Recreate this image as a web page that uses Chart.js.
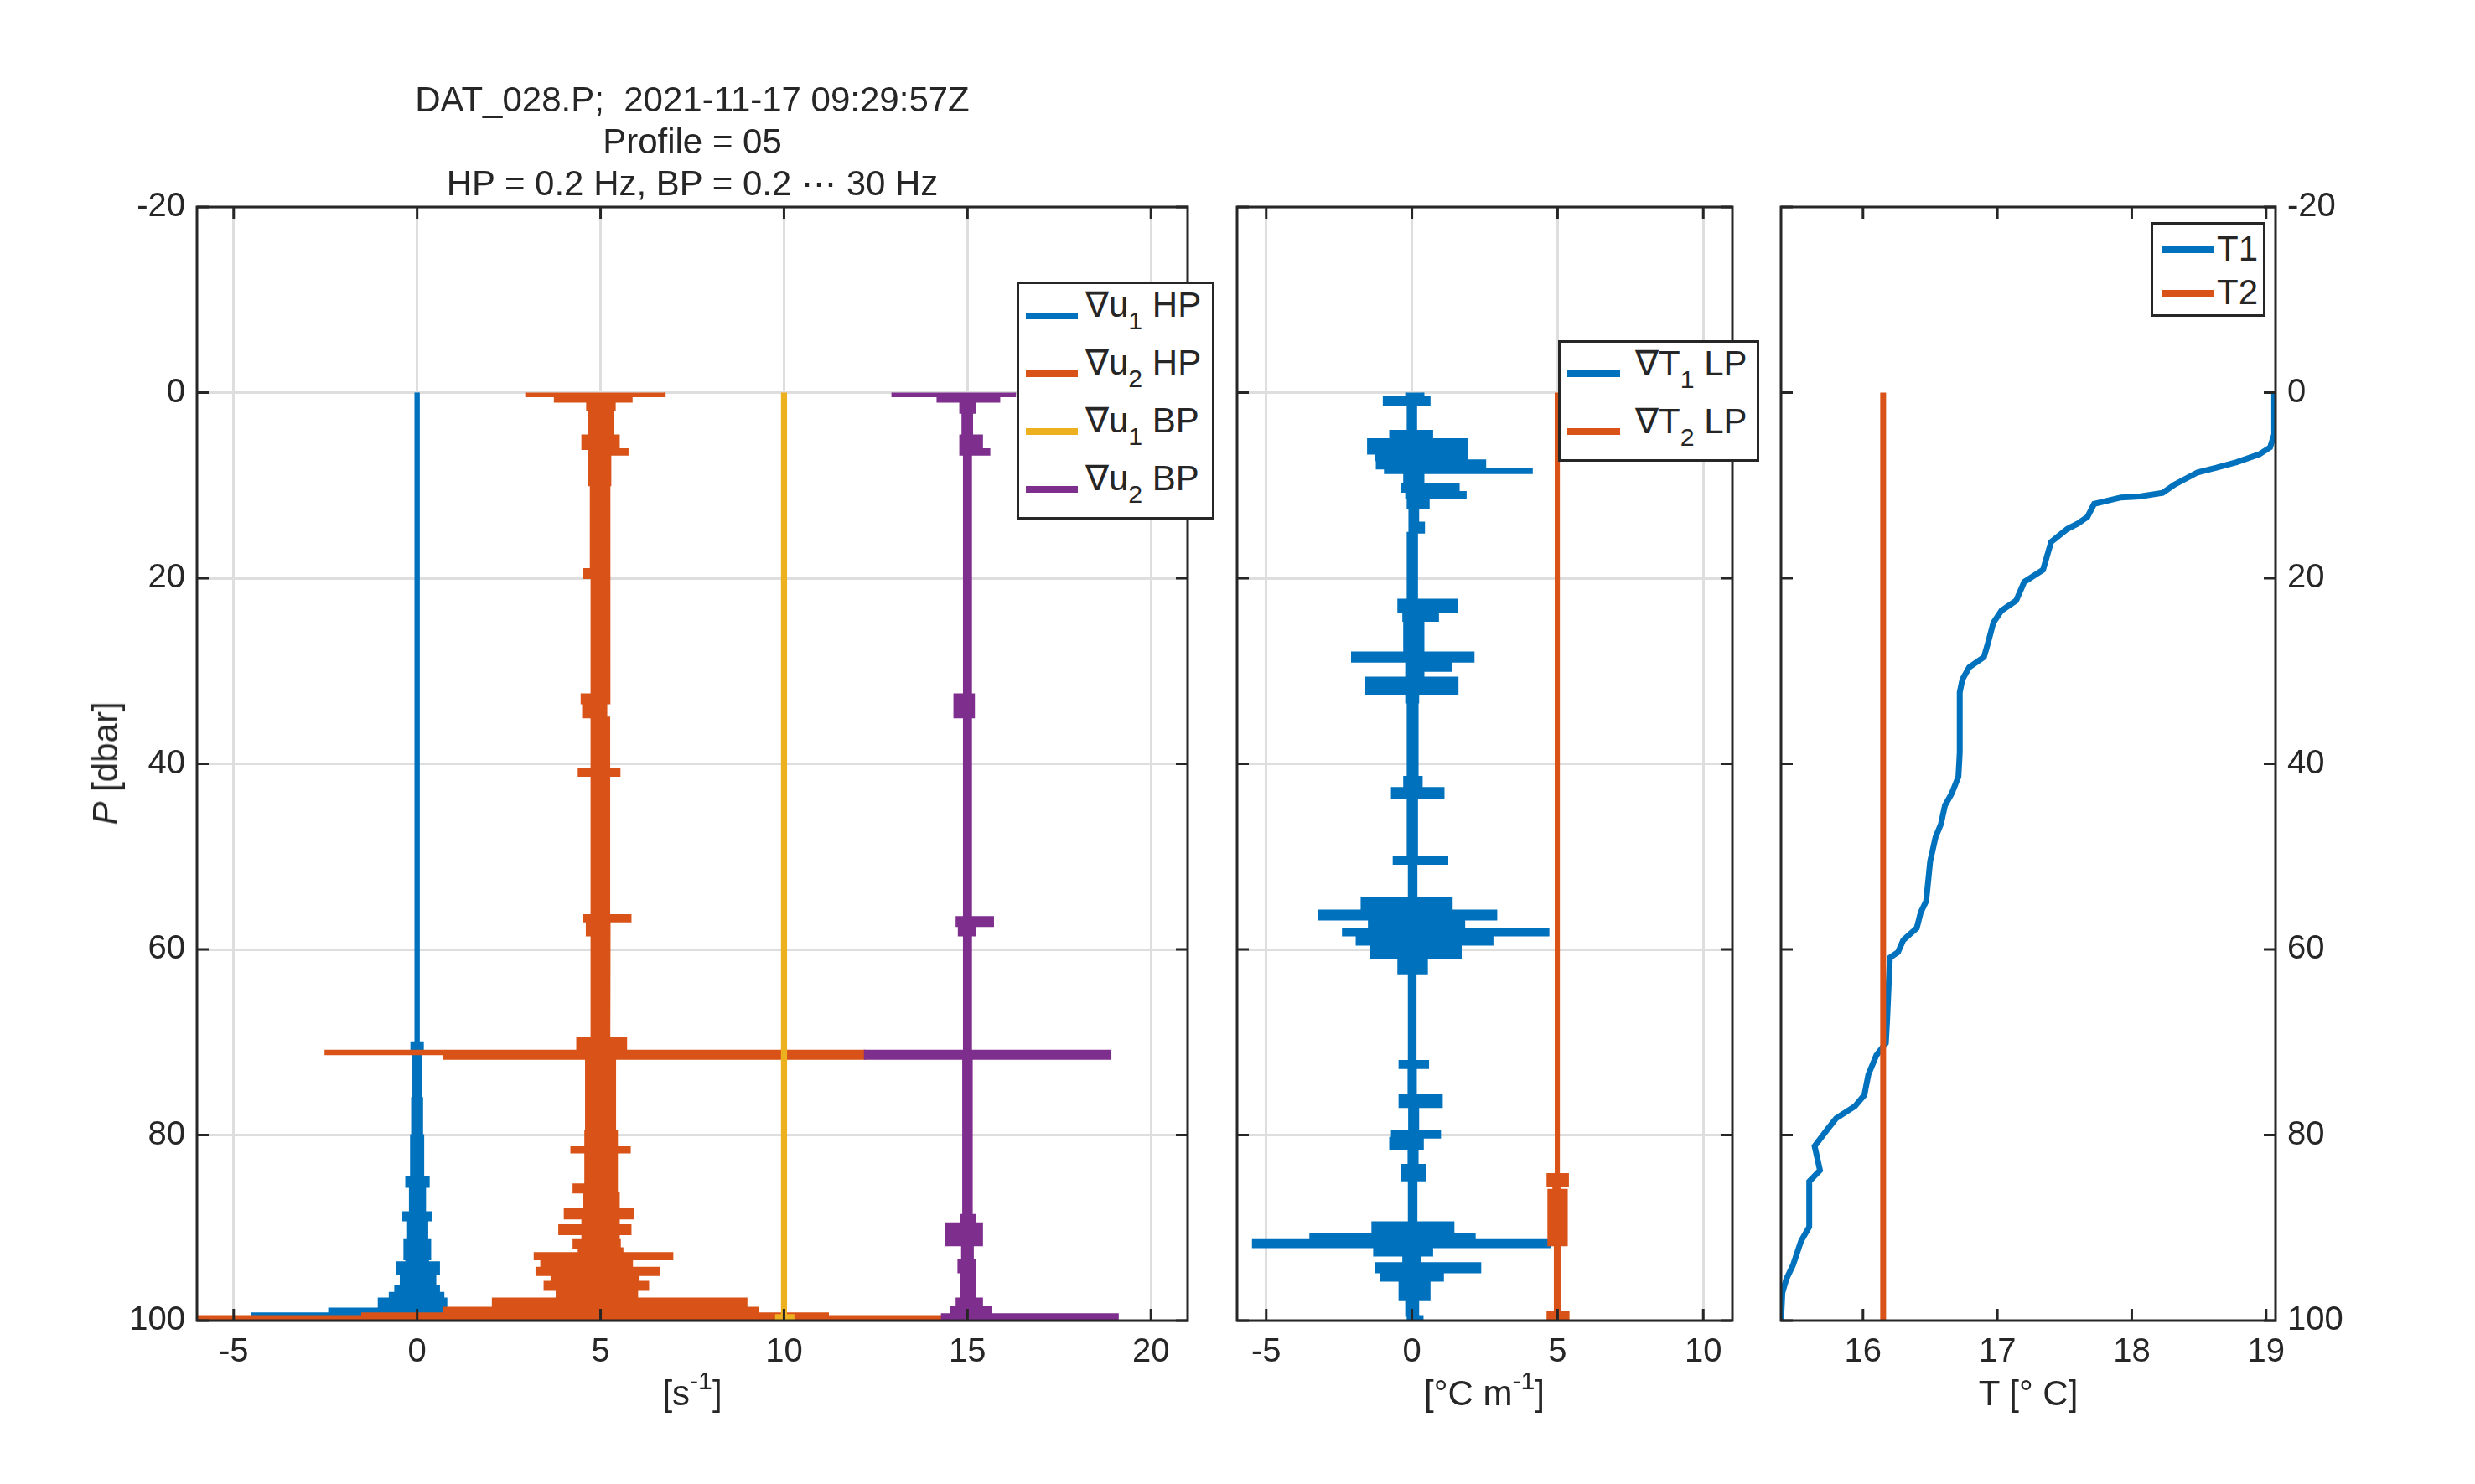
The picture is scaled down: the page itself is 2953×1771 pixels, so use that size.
<!DOCTYPE html>
<html>
<head>
<meta charset="utf-8">
<style>
  html, body { margin: 0; padding: 0; background: #fff; }
  body { width: 2953px; height: 1771px; position: relative; overflow: hidden;
         font-family: "Liberation Sans", Arial, sans-serif; color: #262626; }
  canvas { position: absolute; left: 0; top: 0; }
  .lbl { position: absolute; font-size: 42px; line-height: 1; white-space: nowrap; }
  .center { width: 800px; text-align: center; }
  .leg { position: absolute; background: #fff; border: 3px solid #262626; box-sizing: border-box; }
  .leg .sample { position: absolute; height: 8px; margin-top: -4px; }
  .leg .txt { position: absolute; font-size: 42px; line-height: 1; white-space: nowrap; }
  sub { font-size: 0.72em; vertical-align: -0.5em; line-height: 0; }
  sup { font-size: 0.72em; vertical-align: 0.62em; line-height: 0; }
</style>
</head>
<body>

<canvas id="shear" width="2953" height="1771"></canvas>
<canvas id="gradT" width="2953" height="1771"></canvas>
<canvas id="temp" width="2953" height="1771"></canvas>

<div class="lbl center" style="left:426px; top:94px; line-height:50px;">DAT_028.P;&nbsp; 2021-11-17 09:29:57Z<br>Profile = 05<br>HP = 0.2 Hz, BP = 0.2 &#8943; 30 Hz</div>

<div class="lbl" style="left:126px; top:911px; transform: translate(-50%, -50%) rotate(-90deg);"><i>P</i> [dbar]</div>
<div class="lbl center" style="left:426px; top:1642px;">[s<sup>-1</sup>]</div>
<div class="lbl center" style="left:1371px; top:1642px;">[&deg;C m<sup>-1</sup>]</div>
<div class="lbl center" style="left:2020px; top:1642px;">T [&deg; C]</div>

<div class="leg" style="left:1213px; top:336px; width:236px; height:284px;">
  <div class="sample" style="left:8px; top:38px; width:62px; background:#0072BD;"></div>
  <div class="txt" style="left:79px; top:4px;">&nabla;u<sub>1</sub> HP</div>
  <div class="sample" style="left:8px; top:107px; width:62px; background:#D95319;"></div>
  <div class="txt" style="left:79px; top:73px;">&nabla;u<sub>2</sub> HP</div>
  <div class="sample" style="left:8px; top:176px; width:62px; background:#EDB120;"></div>
  <div class="txt" style="left:79px; top:142px;">&nabla;u<sub>1</sub> BP</div>
  <div class="sample" style="left:8px; top:245px; width:62px; background:#7E2F8E;"></div>
  <div class="txt" style="left:79px; top:211px;">&nabla;u<sub>2</sub> BP</div>
</div>

<div class="leg" style="left:1859px; top:406px; width:240px; height:145px;">
  <div class="sample" style="left:8px; top:37px; width:63px; background:#0072BD;"></div>
  <div class="txt" style="left:89px; top:4px;">&nabla;T<sub>1</sub> LP</div>
  <div class="sample" style="left:8px; top:106px; width:63px; background:#D95319;"></div>
  <div class="txt" style="left:89px; top:73px;">&nabla;T<sub>2</sub> LP</div>
</div>

<div class="leg" style="left:2566px; top:265px; width:137px; height:113px;">
  <div class="sample" style="left:10px; top:30px; width:63px; background:#0072BD;"></div>
  <div class="txt" style="left:76px; top:8px;">T1</div>
  <div class="sample" style="left:10px; top:82px; width:63px; background:#D95319;"></div>
  <div class="txt" style="left:76px; top:60px;">T2</div>
</div>

<script src="https://cdn.jsdelivr.net/npm/chart.js"></script>
<script>
// ---- tick values ----
const pressureTicks = [-20, 0, 20, 40, 60, 80, 100];
const shearTicks = [-5, 0, 5, 10, 15, 20];
const gradTTicks = [-5, 0, 5, 10];
const tempTicks = [16, 17, 18, 19];

// ---- noisy profiles, read off the picture as envelopes ----
// each row: [P top, P bottom, min value, max value] (values include the plot offsets)
const gradU1HP = [
  [0, 70, -0.05, 0.05], [70, 70.8, -0.16, 0.16], [70.8, 76, -0.12, 0.12],
  [76, 80, -0.14, 0.14], [80, 84.5, -0.17, 0.17], [84.5, 85.6, -0.3, 0.32],
  [85.6, 88.3, -0.2, 0.22], [88.3, 89.2, -0.38, 0.38], [89.2, 91.3, -0.25, 0.28],
  [91.3, 93.4, -0.35, 0.36], [93.4, 93.7, -0.3, 0.3], [93.7, 95, -0.55, 0.6],
  [95, 96.2, -0.45, 0.5], [96.2, 97, -0.6, 0.6], [97, 97.6, -0.75, 0.72],
  [97.6, 98.7, -1.05, 0.8], [98.7, 99.2, -2.4, 0.7], [99.2, 99.6, -4.5, 0.6],
  [99.6, 100, -6.2, 0.5]
];
const gradU2HP = [
  [0, 0.4, 2.97, 6.75], [0.4, 1, 3.75, 5.85], [1, 1.9, 4.63, 5.39],
  [1.9, 4.6, 4.68, 5.33], [4.6, 6.1, 4.5, 5.5], [6.1, 6.7, 4.68, 5.74],
  [6.7, 10, 4.68, 5.27], [10, 19, 4.73, 5.24], [19, 20, 4.54, 5.25],
  [20, 32.5, 4.75, 5.24], [32.5, 33.5, 4.48, 5.25], [33.5, 35, 4.52, 5.16],
  [35, 40.5, 4.75, 5.24], [40.5, 41.3, 4.4, 5.52], [41.3, 56.3, 4.75, 5.24],
  [56.3, 57, 4.54, 5.82], [57, 58.5, 4.62, 5.25], [58.5, 69.5, 4.75, 5.24],
  [69.5, 70.9, 4.36, 5.7], [70.9, 71.3, -2.5, 12.2], [71.3, 71.8, 0.73, 12.2],
  [71.8, 79.6, 4.6, 5.4], [79.6, 81.3, 4.58, 5.45], [81.3, 81.9, 4.2, 5.8],
  [81.9, 85.3, 4.58, 5.45], [85.3, 86.2, 4.26, 5.45], [86.2, 88, 4.55, 5.5],
  [88, 89, 4.02, 5.9], [89, 89.7, 4.5, 5.5], [89.7, 90.7, 3.87, 5.82],
  [90.7, 91.3, 4.5, 5.5], [91.3, 92.2, 4.26, 5.53], [92.2, 92.7, 4.4, 5.6],
  [92.7, 93.4, 3.2, 6.96], [93.4, 94.3, 3.38, 5.86], [94.3, 95.1, 3.25, 6.6],
  [95.1, 95.8, 3.66, 6.04], [95.8, 96.7, 3.47, 6.3], [96.7, 97.6, 3.8, 6.0],
  [97.6, 98.6, 2.06, 8.98], [98.6, 99.2, 0.73, 9.3], [99.2, 99.5, -1.5, 11.2],
  [99.5, 100, -6.2, 14.3]
];
const gradU1BP = [
  [0, 99.4, 9.94, 10.06], [99.4, 100, 9.78, 10.26]
];
const gradU2BP = [
  [0, 0.4, 12.95, 16.3], [0.4, 1, 14.18, 15.87], [1, 2.2, 14.8, 15.2],
  [2.2, 4.6, 14.86, 15.13], [4.6, 6.1, 14.8, 15.4], [6.1, 6.7, 14.8, 15.6],
  [6.7, 32.5, 14.9, 15.1], [32.5, 35, 14.64, 15.18], [35, 56.5, 14.9, 15.1],
  [56.5, 57.5, 14.7, 15.7], [57.5, 58.5, 14.76, 15.2], [58.5, 70.9, 14.9, 15.1],
  [70.9, 71.8, 12.2, 18.9], [71.8, 88.6, 14.88, 15.12], [88.6, 89.5, 14.82, 15.2],
  [89.5, 91.9, 14.4, 15.4], [91.9, 93.5, 14.85, 15.15], [93.5, 94.8, 14.75, 15.2],
  [94.8, 97.6, 14.82, 15.2], [97.6, 98.5, 14.7, 15.4], [98.5, 99.3, 14.55, 15.65],
  [99.3, 100, 14.3, 19.1]
];
const gradT1LP = [
  [0, 0.4, -0.2, 0.4], [0.4, 1.3, -0.97, 0.61], [1.3, 4.1, -0.15, 0.15],
  [4.1, 5, -0.75, 0.7], [5, 6.6, -1.51, 1.91], [6.6, 7.3, -1.23, 1.9],
  [7.3, 8.2, -1.21, 2.52], [8.2, 8.7, -0.93, 4.12], [8.7, 9.8, -0.27, 0.4],
  [9.8, 10.7, -0.36, 1.61], [10.7, 11.4, -0.2, 1.85], [11.4, 12.5, -0.15, 0.58],
  [12.5, 14, -0.09, 0.22], [14, 15.1, -0.09, 0.42], [15.1, 22.3, -0.15, 0.18],
  [22.3, 23.7, -0.47, 1.55], [23.7, 24.6, -0.3, 0.9], [24.6, 28, -0.27, 0.4],
  [28, 29, -2.06, 2.12], [29, 30, -0.2, 1.35], [30, 30.7, -0.2, 0.4],
  [30.7, 32.5, -1.57, 1.57], [32.5, 33.4, -0.2, 0.22], [33.4, 41.4, -0.15, 0.2],
  [41.4, 42.6, -0.27, 0.34], [42.6, 43.7, -0.69, 1.09], [43.7, 50, -0.15, 0.18],
  [50, 50.8, -0.63, 1.22], [50.8, 54.5, -0.11, 0.16], [54.5, 55.8, -1.73, 1.37],
  [55.8, 56.8, -3.2, 2.9], [56.8, 57.8, -1.48, 1.8], [57.8, 58.5, -2.37, 4.69],
  [58.5, 59.5, -1.9, 2.77], [59.5, 61, -1.42, 1.68], [61, 62.6, -0.47, 0.52],
  [62.6, 72, -0.11, 0.13], [72, 72.8, -0.43, 0.56], [72.8, 75.7, -0.12, 0.14],
  [75.7, 77, -0.43, 1.03], [77, 79.5, -0.1, 0.22], [79.5, 80.3, -0.69, 0.97],
  [80.3, 81.5, -0.75, 0.38], [81.5, 83.2, -0.12, 0.2], [83.2, 84.9, -0.35, 0.46],
  [84.9, 89.4, -0.11, 0.16], [89.4, 90.7, -1.36, 1.43], [90.7, 91.3, -3.49, 2.16],
  [91.3, 92.1, -5.46, 4.75], [92.1, 93, -1.3, 0.7], [93, 93.8, -0.3, 0.3],
  [93.8, 94.8, -1.24, 2.35], [94.8, 95.7, -1.06, 1.07], [95.7, 97.8, -0.43, 0.61],
  [97.8, 99.5, -0.2, 0.22], [99.5, 100, -0.15, 0.37]
];
const gradT2LP = [
  [0, 84.2, 4.93, 5.05], [84.2, 85.5, 4.65, 5.36], [85.5, 85.9, 4.85, 5.1],
  [85.9, 91.9, 4.68, 5.32], [91.9, 99, 4.9, 5.1], [99, 100, 4.65, 5.38]
];

// ---- temperature profiles ----
const pressureT1 = [0, 4.5, 5.9, 6.65, 7.5, 8.1, 8.6, 9.9, 10.8, 11.2, 11.3, 12.0, 13.4, 14.1, 14.7,
  16.1, 19.1, 20.4, 22.4, 23.5, 24.8, 27.0, 28.5, 29.6, 30.9, 32.3, 38.8, 41.4, 43.2, 44.5,
  46.5, 47.9, 50.5, 54.8, 56.0, 57.7, 59.0, 60.3, 60.9, 67.5, 70.1, 71.4, 73.5, 75.7, 76.9,
  78.2, 79.3, 81.2, 83.8, 85.0, 89.9, 91.4, 94.0, 95.5, 97.0, 100];
const tempT1 = [19.06, 19.06, 19.03, 18.95, 18.78, 18.63, 18.49, 18.32, 18.23, 18.06, 17.92, 17.72, 17.67, 17.60, 17.52,
  17.40, 17.34, 17.20, 17.14, 17.03, 16.97, 16.93, 16.90, 16.79, 16.74, 16.72, 16.72, 16.71, 16.66, 16.61,
  16.58, 16.54, 16.50, 16.47, 16.43, 16.40, 16.30, 16.26, 16.20, 16.18, 16.17, 16.10, 16.04, 16.01, 15.94,
  15.80, 15.74, 15.64, 15.68, 15.60, 15.60, 15.54, 15.48, 15.43, 15.40, 15.39];
const pressureT2 = [0, 100];
const tempT2 = [16.15, 16.15];

// ---- style ----
const FONT = '"Liberation Sans", Arial, sans-serif';
const AXIS = '#262626';
const GRID = '#dedede';
const BLUE = '#0072BD', ORANGE = '#D95319', YELLOW = '#EDB120', PURPLE = '#7E2F8E';
const W = 2953, H = 1771;
const TOP = 247, BOTTOM = 1576;
const Y_AXIS_W = 150, X_AXIS_H = 100;

// closed outline: down the max side, back up the min side
function bandPoints(rows) {
  const right = [], left = [];
  rows.forEach(([p0, p1, lo, hi]) => {
    right.push({x: hi, y: p0}, {x: hi, y: p1});
    left.unshift({x: lo, y: p1}, {x: lo, y: p0});
  });
  return right.concat(left);
}

function band(rows, color, order) {
  return {
    data: bandPoints(rows), borderColor: color, backgroundColor: color,
    borderWidth: 2, fill: 'shape', pointRadius: 0, tension: 0, order: order
  };
}

// MATLAB style box with inward ticks on all four sides
const boxPlugin = {
  id: 'matlabBox',
  afterDatasetsDraw(chart) {
    const {ctx, chartArea: a, scales} = chart;
    const len = 14;
    ctx.save();
    ctx.strokeStyle = AXIS;
    ctx.lineWidth = 3;
    ctx.beginPath();
    scales.x.ticks.forEach(t => {
      const px = scales.x.getPixelForValue(t.value);
      ctx.moveTo(px, a.bottom); ctx.lineTo(px, a.bottom - len);
      ctx.moveTo(px, a.top); ctx.lineTo(px, a.top + len);
    });
    scales.y.ticks.forEach(t => {
      const py = scales.y.getPixelForValue(t.value);
      ctx.moveTo(a.left, py); ctx.lineTo(a.left + len, py);
      ctx.moveTo(a.right, py); ctx.lineTo(a.right - len, py);
    });
    ctx.stroke();
    ctx.strokeRect(a.left, a.top, a.right - a.left, a.bottom - a.top);
    ctx.restore();
  }
};

function fixedTicks(values) {
  return scale => { scale.ticks = values.map(v => ({value: v})); };
}

function panel(id, o) {
  const tickFont = {family: FONT, size: 40};
  return new Chart(document.getElementById(id), {
    type: 'line',
    data: {datasets: o.datasets},
    plugins: [boxPlugin],
    options: {
      responsive: false,
      animation: false,
      devicePixelRatio: 1,
      events: [],
      layout: {padding: o.padding},
      plugins: {legend: {display: false}, tooltip: {enabled: false}},
      scales: {
        x: {
          type: 'linear', min: o.xMin, max: o.xMax,
          afterBuildTicks: fixedTicks(o.xTicks),
          afterFit: s => { s.height = X_AXIS_H; },
          grid: {display: o.grid, color: GRID, lineWidth: 3, drawTicks: false},
          border: {display: false},
          ticks: {color: AXIS, font: tickFont, padding: 14, maxRotation: 0, autoSkip: false}
        },
        y: {
          type: 'linear', reverse: true, min: -20, max: 100,
          position: o.yPos,
          afterBuildTicks: fixedTicks(pressureTicks),
          afterFit: s => { s.width = o.yLabels ? Y_AXIS_W : 0; },
          grid: {display: o.grid, color: GRID, lineWidth: 3, drawTicks: false},
          border: {display: false},
          ticks: {display: o.yLabels, color: AXIS, font: tickFont, padding: 14, autoSkip: false}
        }
      }
    }
  });
}

panel('shear', {
  datasets: [
    band(gradU1HP, BLUE, 4), band(gradU2HP, ORANGE, 3),
    band(gradU1BP, YELLOW, 2), band(gradU2BP, PURPLE, 1)
  ],
  padding: {left: 235 - Y_AXIS_W, right: W - 1417, top: TOP, bottom: H - BOTTOM - X_AXIS_H},
  xMin: -6, xMax: 21, xTicks: shearTicks, grid: true, yLabels: true, yPos: 'left'
});

panel('gradT', {
  datasets: [band(gradT1LP, BLUE, 2), band(gradT2LP, ORANGE, 1)],
  padding: {left: 1476, right: W - 2067, top: TOP, bottom: H - BOTTOM - X_AXIS_H},
  xMin: -6, xMax: 11, xTicks: gradTTicks, grid: true, yLabels: false, yPos: 'left'
});

panel('temp', {
  datasets: [
    {data: pressureT1.map((p, i) => ({x: tempT1[i], y: p})), borderColor: BLUE,
     borderWidth: 7, pointRadius: 0, tension: 0, fill: false, order: 2},
    {data: pressureT2.map((p, i) => ({x: tempT2[i], y: p})), borderColor: ORANGE,
     borderWidth: 7, pointRadius: 0, tension: 0, fill: false, order: 1}
  ],
  padding: {left: 2125, right: W - 2715 - Y_AXIS_W, top: TOP, bottom: H - BOTTOM - X_AXIS_H},
  xMin: 15.39, xMax: 19.07, xTicks: tempTicks, grid: false, yLabels: true, yPos: 'right'
});
</script>
</body>
</html>
